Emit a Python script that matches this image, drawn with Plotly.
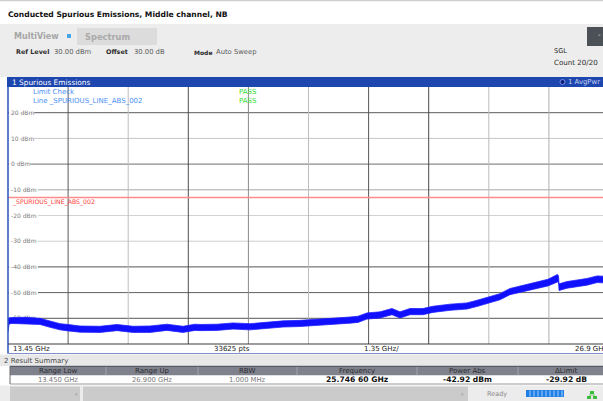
import plotly.graph_objects as go

W, H = 603, 401

# --- measurement data -------------------------------------------------------
f_start_ghz, f_stop_ghz = 13.45, 26.9
ref_level_dbm = 30.0
bottom_level_dbm = -70.0
offset_db = 30.0
limit_dbm = -13.0
sweep_points = 33625
rbw_mhz = 1.0
peak_freq_ghz = 25.74660
peak_dbm = -42.92

# averaged trace, upper / lower edge of the noise band
freq_ghz = [13.450, 13.475, 13.540, 13.830, 14.166, 14.390, 14.614, 14.795,
            15.061, 15.509, 15.889, 16.247, 16.628, 17.008, 17.366, 17.635,
            17.747, 18.127, 18.485, 18.866, 19.246, 19.604, 19.985, 20.365,
            20.723, 21.104, 21.283, 21.484, 21.775, 22.044, 22.223, 22.446,
            22.737, 22.961, 23.342, 23.722, 23.946, 24.214, 24.460, 24.684,
            24.908, 25.199, 25.535, 25.7466, 25.770, 25.782, 25.961, 26.185,
            26.409, 26.633, 26.900]
upper_dbm = [-60.0, -59.8, -59.7, -59.6, -60.0, -61.1, -62.1, -62.4,
             -63.0, -63.1, -62.4, -63.1, -63.0, -62.3, -63.1, -62.3,
             -62.4, -62.3, -61.8, -62.1, -61.4, -61.0, -60.8, -60.4,
             -60.1, -59.5, -59.2, -57.9, -57.5, -56.2, -57.5, -56.2,
             -56.2, -55.3, -54.5, -54.0, -53.0, -51.7, -50.4, -48.4,
             -47.5, -46.1, -44.8, -42.92, -43.5, -46.6, -45.7, -45.1,
             -44.5, -43.5, -43.7]
lower_dbm = [-65.3, -62.2, -62.0, -62.1, -62.4, -63.5, -64.5, -64.9,
             -65.4, -65.5, -64.8, -65.5, -65.5, -64.7, -65.5, -64.7,
             -64.8, -64.7, -64.2, -64.5, -63.8, -63.4, -63.2, -62.8,
             -62.5, -61.9, -61.6, -60.3, -59.9, -58.6, -59.9, -58.6,
             -58.6, -57.7, -56.9, -56.4, -55.4, -54.1, -52.8, -50.8,
             -49.9, -48.7, -47.4, -45.9, -46.1, -49.2, -48.3, -47.7,
             -47.1, -46.1, -46.3]

level_ticks = [20, 10, 0, -10, -20, -30, -40, -50, -60]
level_grid_colors = ["#5c5c5c", "#c6c6c6", "#6e6e6e", "#a8a8a8", "#d2d2d2",
                     "#cdcdcd", "#555555", "#606060", "#575757"]
freq_grid_colors = ["#5a5a5a", "#bdbdbd", "#4e4e4e", "#8a8a8a", "#bcbcbc",
                    "#575757", "#4a4a4a", "#bdbdbd", "#b0b0b0"]
bottom_row_labels = ["13.45 GHz", f"{sweep_points} pts", "1.35 GHz/", "26.9 GHz"]
summary_headers = ["Range Low", "Range Up", "RBW", "Frequency", "Power Abs", "\u0394Limit"]

# --- screen geometry helpers ------------------------------------------------
def px(x):
    return x / W

def py(y):
    return 1 - y / H

PLOT_L, PLOT_R_FULL, PLOT_T, PLOT_B = 8.0, 609.0, 87.0, 344.0
vis_stop = f_start_ghz + (W - PLOT_L) / (PLOT_R_FULL - PLOT_L) * (f_stop_ghz - f_start_ghz)
div_ghz = (f_stop_ghz - f_start_ghz) / 10

FONT = "DejaVu Sans"

fig = go.Figure()

fig.add_trace(go.Scatter(x=freq_ghz, y=lower_dbm, mode="lines",
                         line=dict(color="rgba(30,30,255,0.75)", width=1.0),
                         hoverinfo="skip", showlegend=False))
fig.add_trace(go.Scatter(x=freq_ghz, y=upper_dbm, mode="lines", fill="tonexty",
                         fillcolor="#1010ff",
                         line=dict(color="rgba(30,30,255,0.75)", width=1.0),
                         name="1 AvgPwr", showlegend=False))

shapes = []

def rect(x0, y0, x1, y1, fill, line=None, layer="above"):
    shapes.append(dict(type="rect", xref="paper", yref="paper",
                       x0=px(x0), x1=px(x1), y0=py(y1), y1=py(y0),
                       fillcolor=fill, line=dict(width=0) if line is None else line,
                       layer=layer))

def hline(x0, x1, y, color, width=1, layer="above"):
    shapes.append(dict(type="line", xref="paper", yref="paper",
                       x0=px(x0), x1=px(x1), y0=py(y), y1=py(y),
                       line=dict(color=color, width=width), layer=layer))

def vline(x, y0, y1, color, width=1, layer="above"):
    shapes.append(dict(type="line", xref="paper", yref="paper",
                       x0=px(x), x1=px(x), y0=py(y0), y1=py(y1),
                       line=dict(color=color, width=width), layer=layer))

# grid (between gridlayer and traces)
for k, c in enumerate(freq_grid_colors, start=1):
    f = f_start_ghz + k * div_ghz
    shapes.append(dict(type="line", xref="x", yref="y", x0=f, x1=f,
                       y0=bottom_level_dbm, y1=ref_level_dbm,
                       line=dict(color=c, width=1), layer="between"))
for v, c in zip(level_ticks, level_grid_colors):
    shapes.append(dict(type="line", xref="paper", yref="y", x0=px(PLOT_L), x1=1,
                       y0=v, y1=v, line=dict(color=c, width=1), layer="between"))
# white backing behind the level labels
for v in level_ticks:
    label = f"{v} dBm"
    shapes.append(dict(type="rect", xref="paper", yref="y",
                       x0=px(PLOT_L + 1), x1=px(PLOT_L + 4 + len(label) * 3.7),
                       y0=v - 0.35, y1=v + 0.35, fillcolor="white",
                       line=dict(width=0), layer="between"))

# limit line
shapes.append(dict(type="line", xref="paper", yref="y", x0=px(PLOT_L), x1=1,
                   y0=limit_dbm, y1=limit_dbm,
                   line=dict(color="#ff8a8a", width=1.4), layer="above"))

# header strip / instrument panel
hline(0, 603, 0.6, "#cfcfcf", 1.5)
rect(0, 24, 603, 77, "#ededed")
rect(77, 28, 157, 45, "#dcdcdc")
rect(67, 34, 71, 38, "#45a5e8")
rect(587, 27, 603, 46, "#4b5156")
rect(PLOT_L - 1, 77, 603, 87, "#1d46ae")
shapes.append(dict(type="circle", xref="paper", yref="paper",
                   x0=px(560), x1=px(565), y0=py(84.5), y1=py(79.5),
                   fillcolor="#0d1e78", line=dict(color="#8fa6ff", width=0.8)))

# plot frame
vline(PLOT_L, PLOT_T, 353.5, "#2e55bd", 1.5)
hline(PLOT_L, 603, PLOT_B, "#3a3a3a", 1.2)
hline(PLOT_L, 603, 353.5, "#7c92c8", 1)

# result summary
rect(0, 354.5, 603, 366, "#e8e8e8")
rect(10, 366, 603, 375.5, "#7f818d")
hline(10, 603, 366.3, "#4d4f5d", 1)
for xd in [106, 198, 297, 417, 518]:
    vline(xd, 367, 375.5, "#a2a4ae", 1)
rect(10, 375.5, 603, 384, "white")
hline(10, 603, 384, "#9a9a9a", 1)
vline(10, 366, 384, "#6a6a6a", 1)

# status bar
rect(0, 385.5, 603, 401, "#ececec")
rect(10, 386.5, 80, 401, "#cbcbcb")
rect(83, 386.5, 468, 401, "#cbcbcb")
rect(526, 390, 564, 397, "#1f7fe6")
for xs in range(530, 564, 4):
    vline(xs, 390.5, 396.5, "#cfe3fa", 0.8)
rect(590, 391, 594, 394, "#3dbb3d")
rect(587, 396, 591, 399, "#3dbb3d")
rect(593, 396, 597, 399, "#3dbb3d")
hline(589, 595, 395, "#3dbb3d", 0.8)

annotations = []

def text(x, y, s, size=7, color="#222222", bold=False, anchor="left"):
    annotations.append(dict(xref="paper", yref="paper", x=px(x), y=py(y),
                            text=f"<b>{s}</b>" if bold else s, showarrow=False,
                            xanchor=anchor, yanchor="middle",
                            font=dict(family=FONT, size=size, color=color)))

text(6, 14, "Conducted Spurious Emissions, Middle channel, NB", 7.6, "#111111", True)
text(12, 36.5, "MultiView", 8, "#a6a6a6", True)
text(83, 36.5, "Spectrum", 8.3, "#aaaaaa", True)
text(14, 52, "Ref Level", 6.4, "#2a2a2a", True)
text(52, 52, f"{ref_level_dbm:.2f} dBm", 6.8, "#5a5a5a")
text(104, 52, "Offset", 6.4, "#2a2a2a", True)
text(132, 52, f"{offset_db:.2f} dB", 6.8, "#5a5a5a")
text(192, 52, "Mode", 6.0, "#2a2a2a", True)
text(214, 52, "Auto Sweep", 6.8, "#5a5a5a")
text(599, 35.5, "-", 7, "#e0e0e0", anchor="center")
text(552, 51, "SGL", 6.6, "#2a2a2a")
text(552, 63, "Count 20/20", 7.1, "#2a2a2a")

text(9.5, 82, "1 Spurious Emissions", 7.4, "#ffffff")
text(566, 82, "1 AvgPwr", 6.9, "#c9d3f2")
text(31, 92, "Limit Check", 7, "#4a8ff5")
text(31, 101.5, "Line _SPURIOUS_LINE_ABS_002", 7, "#4a8ff5")
text(237, 92, "PASS", 7, "#36dc36")
text(237, 101.5, "PASS", 7, "#36dc36")
text(9.5, 202, "_SPURIOUS_LINE_ABS_002", 6.2, "#ff3c3c")

text(11, 348.8, bottom_row_labels[0], 7, "#222222")
text(212, 348.8, bottom_row_labels[1], 7, "#222222")
text(362, 348.8, bottom_row_labels[2], 7, "#222222")
text(609, 348.8, bottom_row_labels[3], 7, "#222222", anchor="right")

text(2, 360.5, "2 Result Summary", 7, "#4a4a4a")
col_centers = [58, 152, 247, 357, 467, 566]
for cx, h in zip(col_centers, summary_headers):
    text(cx, 371, h, 7, "#2c2c2e", anchor="center")

peak_txt = f"{peak_freq_ghz:.5f}"
peak_txt = peak_txt[:-2] + " " + peak_txt[-2:]
values = [
    (f"{f_start_ghz:.3f} GHz", False),
    (f"{f_stop_ghz:.3f} GHz", False),
    (f"{rbw_mhz:.3f} MHz", False),
    (f"{peak_txt} GHz", True),
    (f"{peak_dbm:.2f} dBm", True),
    (f"{peak_dbm - limit_dbm:.2f} dB", True),
]
for cx, (s, b) in zip(col_centers, values):
    if b:
        text(cx, 379.8, s, 7.6, "#111111", True, anchor="center")
    else:
        text(cx, 379.8, s, 6.8, "#7a7a7a", anchor="center")

text(76, 393.5, "\u25be", 5, "#a8a8a8", anchor="center")
text(463, 393.5, "\u25be", 5, "#a8a8a8", anchor="center")
text(497, 394, "Ready", 6.5, "#8a8a8a", anchor="center")

fig.update_layout(
    width=W, height=H,
    margin=dict(l=0, r=0, t=0, b=0),
    paper_bgcolor="white", plot_bgcolor="white",
    showlegend=False,
    shapes=shapes, annotations=annotations,
    xaxis=dict(domain=[px(PLOT_L), 1], range=[f_start_ghz, vis_stop],
               showgrid=False, zeroline=False, showticklabels=False,
               ticks="", showline=False, fixedrange=True),
    yaxis=dict(domain=[py(PLOT_B), py(PLOT_T)],
               range=[bottom_level_dbm, ref_level_dbm],
               tickvals=level_ticks, ticktext=[f"{v} dBm" for v in level_ticks],
               ticklabelposition="inside", ticks="", layer="below traces",
               tickfont=dict(family=FONT, size=6, color="#7c7c7c"),
               showgrid=False, zeroline=False, showline=False, fixedrange=True),
)

fig.write_html("out.html")
